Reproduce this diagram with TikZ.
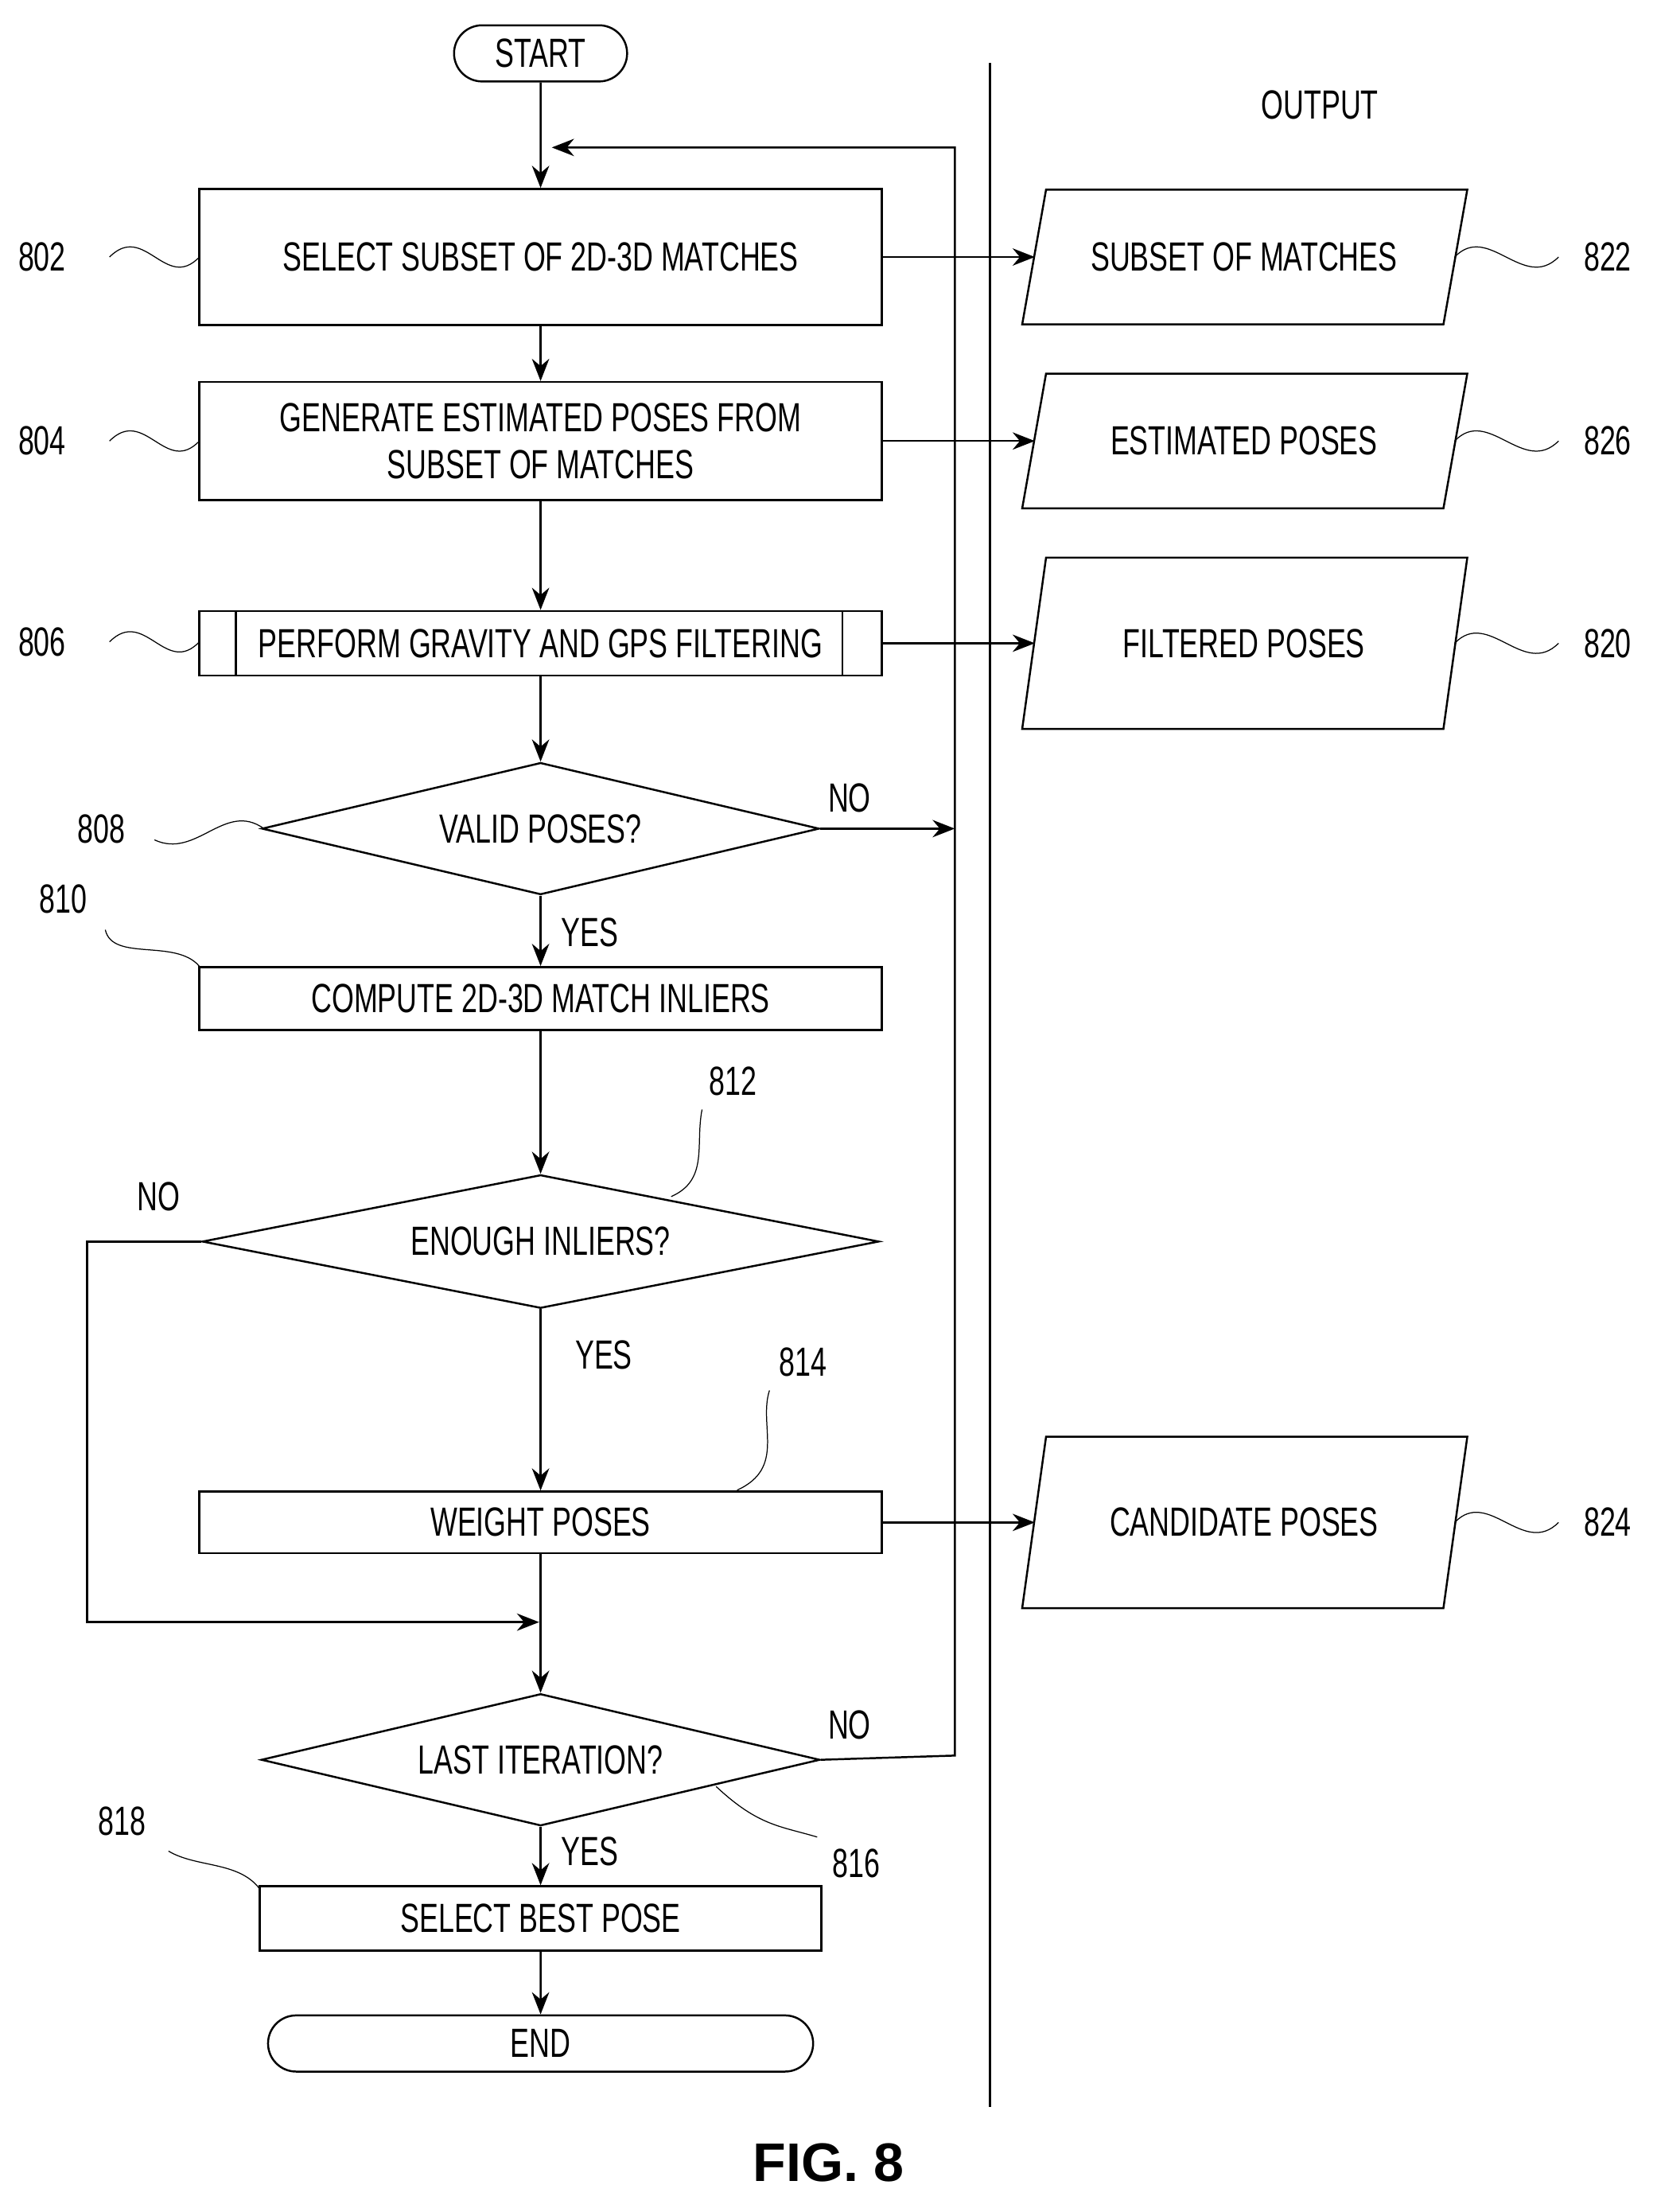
\documentclass[tikz,border=0pt]{standalone}
\usepackage{fontspec}
\setmainfont{Liberation Sans}[FakeStretch=0.7]
\newfontfamily\figfont{Liberation Sans}
\usetikzlibrary{shapes.geometric,shapes.misc,arrows.meta}
\tikzset{
  box/.style={draw, thick, rectangle, inner sep=0pt},
  term/.style={draw, thick, rounded rectangle, minimum width=2.7cm, minimum height=0.8cm},
  dec/.style={draw, thick, diamond, aspect=4, inner sep=0pt},
  flow/.style={thick, -{Stealth[length=9pt,width=7pt]}},
  squig/.style={thin},
  lbl/.style={font=\fontsize{16.5}{19}\selectfont}
}
\begin{document}
\begin{tikzpicture}[x=0.02cm,y=-0.02cm]
  \useasboundingbox (0,0) rectangle (1180,1575);
  \begin{scope}[every node/.style={lbl}]
  % main column
  \node (start) [term] at (385,38) {START};
  \node (s802) [box, minimum width=9.72cm, minimum height=1.94cm] at (385,183) {SELECT SUBSET OF 2D-3D MATCHES};
  \node (s804) [box, minimum width=9.72cm, minimum height=1.68cm, align=center] at (385,314) {GENERATE ESTIMATED POSES FROM\\SUBSET OF MATCHES};
  \node (s806) [box, minimum width=9.72cm, minimum height=0.92cm] at (385,458) {PERFORM GRAVITY AND GPS FILTERING};
  \draw[thick] (168,435) -- (168,481) (600,435) -- (600,481);
  \node (s808) [dec, minimum width=7.94cm, minimum height=1.88cm] at (385,590) {VALID POSES?};
  \node (s810) [box, minimum width=9.72cm, minimum height=0.9cm] at (385,711) {COMPUTE 2D-3D MATCH INLIERS};
  \node (s812) [dec, minimum width=9.64cm, minimum height=1.9cm] at (385,884) {ENOUGH INLIERS?};
  \node (s814) [box, minimum width=9.72cm, minimum height=0.88cm] at (385,1084) {WEIGHT POSES};
  \node (s816) [dec, minimum width=7.96cm, minimum height=1.88cm] at (385,1253) {LAST ITERATION?};
  \node (s818) [box, minimum width=8cm, minimum height=0.92cm] at (385,1366) {SELECT BEST POSE};
  \node (end) [term, minimum width=8cm] at (385,1455) {END};

  \coordinate (top) at (393,105);
  \coordinate (join) at (385,1155);
  \coordinate (fbtop) at (680,105);
  \coordinate (fbno) at (680,590);
  \coordinate (fbbot) at (680,1250);
  \coordinate (nobend) at (62,884);
  \coordinate (nocorner) at (62,1155);
  \coordinate (noend) at (384,1155);

  \draw[flow] (start) -- (s802);
  \draw[flow] (s802) -- (s804);
  \draw[flow] (s804) -- (s806);
  \draw[flow] (s806) -- (s808);
  \draw[flow] (s808) -- (s810);
  \draw[flow] (s810) -- (s812);
  \draw[flow] (s812) -- (s814);
  \draw[thick] (s814) -- (join);
  \draw[flow] (join) -- (s816);
  \draw[flow] (s818) -- (end);
  \draw[flow] (s816) -- (s818);
  % loops
  \draw[flow] (s816.east) -- (fbbot) -- (fbtop) -- (top);
  \draw[flow] (s808.east) -- (fbno);
  \draw[flow] (s812.west) -- (nobend) -- (nocorner) -- (noend);

  \node at (605,568) {NO};
  \node at (420,664) {YES};
  \node at (113,852) {NO};
  \node at (430,965) {YES};
  \node at (605,1228) {NO};
  \node at (420,1318) {YES};

  % output column
  \draw[thick] (705,45) -- (705,1500);
  \node at (940,75) {OUTPUT};
  \foreach \n/\ya/\yb/\txt in {822/135/231/SUBSET OF MATCHES, 826/266/362/ESTIMATED POSES, 820/397/519/FILTERED POSES, 824/1023/1145/CANDIDATE POSES}{
    \draw[thick] (745,\ya) -- (1045,\ya) -- (1028,\yb) -- (728,\yb) -- cycle;
    \node (o\n) at (886,{(\ya+\yb)/2}) {\txt};
    \coordinate (in\n) at (737,{(\ya+\yb)/2});
    \node (r\n) at (1145,{(\ya+\yb)/2}) {\n};
    \draw[squig] (1036,{(\ya+\yb)/2}) .. controls (1060,{(\ya+\yb)/2-25}) and (1085,{(\ya+\yb)/2+25}) .. (1110,{(\ya+\yb)/2});
  }
  \draw[flow] (s802.east) -- (in822);
  \draw[flow] (s804.east) -- (in826);
  \draw[flow] (s806.east) -- (in820);
  \draw[flow] (s814.east) -- (in824);

  % reference numerals
  \node (r802) at (30,183) {802};
  \node (r804) at (30,314) {804};
  \node (r806) at (30,457) {806};
  \node (r808) at (72,590) {808};
  \node (r810) at (45,640) {810};
  \node (r812) at (522,770) {812};
  \node (r814) at (572,970) {814};
  \node (r816) at (610,1327) {816};
  \node (r818) at (87,1297) {818};
  \draw[squig] (78,183) .. controls (103,158) and (118,208) .. (142,183);
  \draw[squig] (78,314) .. controls (103,289) and (118,339) .. (142,314);
  \draw[squig] (78,457) .. controls (103,432) and (118,482) .. (142,457);
  \draw[squig] (110,598) .. controls (140,612) and (160,570) .. (188,590);
  \draw[squig] (75,662) .. controls (80,685) and (125,668) .. (142,688);
  \draw[squig] (500,790) .. controls (495,815) and (505,840) .. (478,852);
  \draw[squig] (548,990) .. controls (540,1015) and (560,1045) .. (525,1061);
  \draw[squig] (582,1308) .. controls (555,1300) and (540,1300) .. (510,1272);
  \draw[squig] (120,1318) .. controls (140,1330) and (170,1325) .. (185,1345);
  \end{scope}
  \node at (590,1540) {\figfont\bfseries\fontsize{22}{24}\selectfont FIG. 8};
\end{tikzpicture}
\end{document}
